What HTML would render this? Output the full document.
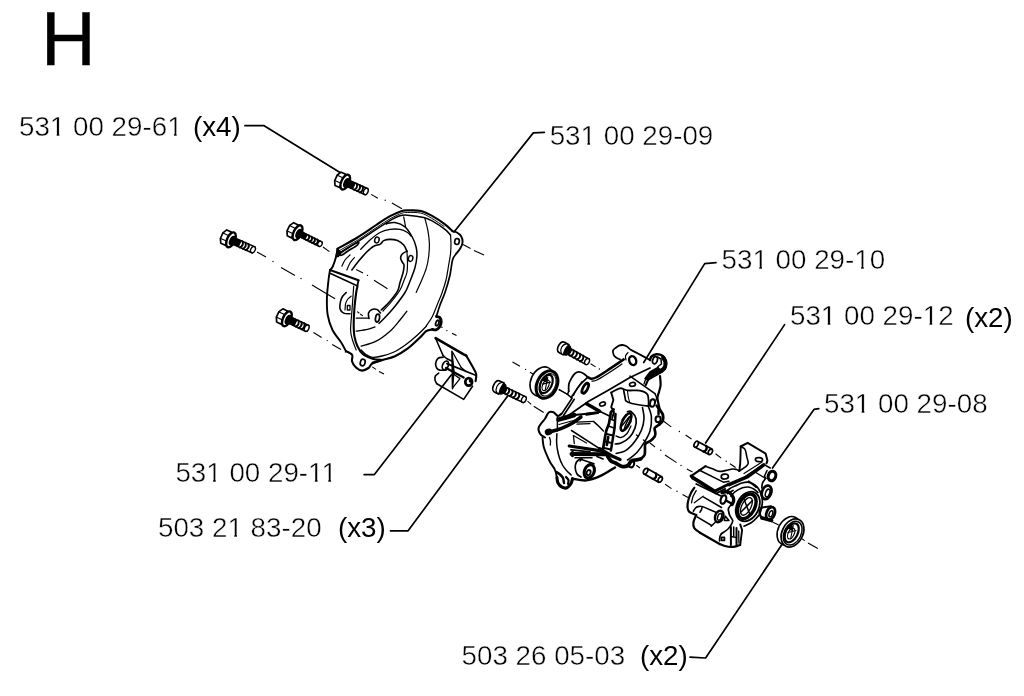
<!DOCTYPE html>
<html><head><meta charset="utf-8"><title>H</title>
<style>
html,body{margin:0;padding:0;background:#fff;}
svg{display:block;will-change:transform}
text{font-family:"Liberation Sans",sans-serif;fill:#000;stroke:#fff;stroke-width:0.45px}
.t{font-size:27.75px}
.d{fill:none;stroke:#000;stroke-width:1.4;stroke-linecap:round;stroke-linejoin:round}
.c{fill:none;stroke:#000;stroke-width:1.1;stroke-linecap:butt}
</style></head><body>
<svg width="1024" height="696" viewBox="0 0 1024 696">
<rect width="1024" height="696" fill="#fff"/>
<text x="41.1" y="65.2" font-size="75.8" style="stroke:#000;stroke-width:0.4px">H</text>
<g class="t">
<text x="19" y="136">531 00 29-61</text>
<text x="193" y="136" style="stroke-width:0">(x4)</text>
<text x="549.7" y="145">531 00 29-09</text>
<text x="721.6" y="268.5">531 00 29-10</text>
<text x="790" y="325">531 00 29-12</text>
<text x="965" y="327" style="stroke-width:0">(x2)</text>
<text x="824" y="412.5">531 00 29-08</text>
<text x="175.4" y="482">531 00 29-11</text>
<text x="158" y="537.3">503 21 83-20</text>
<text x="338" y="537.3" style="stroke-width:0">(x3)</text>
<text x="461.6" y="664.6">503 26 05-03</text>
<text x="640" y="664.6" style="stroke-width:0">(x2)</text>
</g>
<g id="feet" fill="#fff" stroke="none"><rect x="50.97" y="133.52" width="5.69" height="3.2"/><rect x="59.38" y="133.52" width="5.55" height="3.2"/><rect x="168.24" y="133.52" width="5.69" height="3.2"/><rect x="176.64" y="133.52" width="5.55" height="3.2"/><rect x="581.67" y="142.52" width="5.69" height="3.2"/><rect x="590.08" y="142.52" width="5.55" height="3.2"/><rect x="753.57" y="266.02" width="5.69" height="3.2"/><rect x="761.98" y="266.02" width="5.55" height="3.2"/><rect x="855.40" y="266.02" width="5.69" height="3.2"/><rect x="863.81" y="266.02" width="5.55" height="3.2"/><rect x="821.97" y="322.52" width="5.69" height="3.2"/><rect x="830.38" y="322.52" width="5.55" height="3.2"/><rect x="923.80" y="322.52" width="5.69" height="3.2"/><rect x="932.21" y="322.52" width="5.55" height="3.2"/><rect x="855.97" y="410.02" width="5.69" height="3.2"/><rect x="864.38" y="410.02" width="5.55" height="3.2"/><rect x="207.37" y="479.52" width="5.69" height="3.2"/><rect x="215.78" y="479.52" width="5.55" height="3.2"/><rect x="309.20" y="479.52" width="5.69" height="3.2"/><rect x="317.61" y="479.52" width="5.55" height="3.2"/><rect x="322.57" y="479.52" width="5.69" height="3.2"/><rect x="330.98" y="479.52" width="5.55" height="3.2"/><rect x="228.55" y="534.82" width="5.69" height="3.2"/><rect x="236.96" y="534.82" width="5.55" height="3.2"/></g>
<g class="d" stroke-width="1.4">
<path d="M245,125.7 L263.7,125.5 L340,172.5" stroke-width="1.7"/>
<path d="M544.3,132.4 L533.3,132.9 L454,232" stroke-width="1.7"/>
<path d="M716,262.6 L704.7,263.6 L643.7,362.5" stroke-width="1.7"/>
<path d="M784.6,324.6 L705.6,443" stroke-width="1.7"/>
<path d="M818.8,408.7 L814,409.4 L772.5,468" stroke-width="1.7"/>
<path d="M364.1,474.6 L374.4,474.6 L451.2,375" stroke-width="1.7"/>
<path d="M390.5,530.8 L408.1,530.8 L507.5,396.2" stroke-width="1.7"/>
<path d="M690,657.2 L705.6,658 L781.8,544.7" stroke-width="1.7"/>
</g>
<g class="c">
<path d="M371.2,194.4 L377.8,198.3"/>
<circle cx="385.2" cy="200.3" r="0.7" fill="#000" stroke="none"/>
<path d="M391.9,203 L401.9,208.7"/>
<path d="M463,244.5 L470.5,248.5"/>
<path d="M474,250.5 L484,255"/>
<path d="M323,247 L329.4,251.6"/>
<path d="M356.2,269.4 L363,273"/>
<circle cx="367.5" cy="275.4" r="0.7" fill="#000" stroke="none"/>
<path d="M374,280.3 L387.5,288.7"/>
<path d="M257,252 L266,257"/>
<circle cx="273" cy="261.5" r="0.7" fill="#000" stroke="none"/>
<path d="M281,267.5 L295,275.5"/>
<circle cx="301" cy="278.5" r="0.7" fill="#000" stroke="none"/>
<path d="M312,285 L335,298.7"/>
<path d="M313.5,332.5 L321.6,337.5"/>
<circle cx="327.2" cy="340.6" r="0.7" fill="#000" stroke="none"/>
<path d="M332.2,344.4 L341,349.4"/>
<circle cx="345.4" cy="351.9" r="0.7" fill="#000" stroke="none"/>
<path d="M372.2,366.9 L376,369.4"/>
<path d="M379,371.5 L384,374"/>
<circle cx="441.9" cy="327.2" r="0.8" fill="#000" stroke="none"/>
<circle cx="446.9" cy="330.6" r="0.7" fill="#000" stroke="none"/>
<path d="M452,333.2 L456.5,335.5"/>
<path d="M512.5,361.9 L520,366.2"/>
<circle cx="525.6" cy="369.4" r="0.7" fill="#000" stroke="none"/>
<path d="M530,372.2 L533,374"/>
<path d="M558.7,389.7 L568.1,394.4"/>
<path d="M527.5,401.2 L531.2,404.4"/>
<path d="M533.7,406.2 L543.7,412.5"/>
<path d="M590.6,363.7 L595.6,366.9"/>
<circle cx="599.4" cy="369" r="0.7" fill="#000" stroke="none"/>
<path d="M663.7,421.2 L671.2,426.9"/>
<circle cx="679.4" cy="431.5" r="0.7" fill="#000" stroke="none"/>
<path d="M685.6,435 L691.5,439"/>
<path d="M715.6,453.7 L721.2,458.1"/>
<circle cx="726.2" cy="461.2" r="0.7" fill="#000" stroke="none"/>
<path d="M730,463.7 L735.6,467.5"/>
<path d="M650,443 L655,447"/>
<circle cx="660.8" cy="450.2" r="0.7" fill="#000" stroke="none"/>
<path d="M665,455 L676.6,462.6"/>
<circle cx="681" cy="465.5" r="0.7" fill="#000" stroke="none"/>
<path d="M686.8,469 L692.5,472"/>
<path d="M636.3,465.3 L640,468"/>
<path d="M665.1,484.2 L671.5,488.6"/>
<circle cx="677" cy="491.3" r="0.7" fill="#000" stroke="none"/>
<path d="M682.5,494.5 L688,497.6"/>
<path d="M772.5,522 L778.7,525"/>
<path d="M801.9,538.7 L804.7,540.6"/>
<path d="M808,543 L817.8,548.6"/>
</g>
<g class="d" transform="translate(337.6 178.6) rotate(24.5)">
<path d="M0.5,-7.3 L-1.8,-3.1 L-1.8,3.1 L0.5,7.3 L5.5,7.3 L5.5,-7.3 Z" fill="#fff" stroke-width="1.7"/>
<path d="M-1.6,-2.9 L5.5,-2.9 M-1.6,2.9 L5.5,2.9" stroke-width="1.1"/>
<ellipse cx="8.4" cy="0" rx="3.9" ry="8" fill="#fff" stroke-width="2.4"/>
<ellipse cx="10.3" cy="0.3" rx="2.6" ry="4.6" fill="#000" stroke-width="1.4"/>
<path d="M11,-3.3 L31.8,-3.3 L31.8,3.3 L11,3.3 Z" fill="#fff" stroke-width="1.5"/>
<path d="M11,-3.3 L18,-3.3 L18,3.3 L11,3.3 Z" fill="#000" stroke-width="1"/>
<path d="M19.6,-3.3 C21.6,-1.6 21.6,1.6 19.6,3.3 M22.8,-3.3 C24.8,-1.6 24.8,1.6 22.8,3.3 M26,-3.3 C28,-1.6 28,1.6 26,3.3 " stroke-width="2"/>
<ellipse cx="31" cy="0" rx="2.2" ry="3.3" fill="#fff" stroke-width="1.4"/>
</g>
<g class="d" transform="translate(223.3 236.4) rotate(24.1)">
<path d="M0.5,-7.3 L-1.8,-3.1 L-1.8,3.1 L0.5,7.3 L5.5,7.3 L5.5,-7.3 Z" fill="#fff" stroke-width="1.7"/>
<path d="M-1.6,-2.9 L5.5,-2.9 M-1.6,2.9 L5.5,2.9" stroke-width="1.1"/>
<ellipse cx="8.4" cy="0" rx="3.9" ry="8" fill="#fff" stroke-width="2.4"/>
<ellipse cx="10.3" cy="0.3" rx="2.6" ry="4.6" fill="#000" stroke-width="1.4"/>
<path d="M11,-3.3 L33.3,-3.3 L33.3,3.3 L11,3.3 Z" fill="#fff" stroke-width="1.5"/>
<path d="M11,-3.3 L18,-3.3 L18,3.3 L11,3.3 Z" fill="#000" stroke-width="1"/>
<path d="M19.6,-3.3 C21.6,-1.6 21.6,1.6 19.6,3.3 M22.8,-3.3 C24.8,-1.6 24.8,1.6 22.8,3.3 M26,-3.3 C28,-1.6 28,1.6 26,3.3 " stroke-width="2"/>
<ellipse cx="32.5" cy="0" rx="2.2" ry="3.3" fill="#fff" stroke-width="1.4"/>
</g>
<g class="d" transform="translate(290 229) rotate(26.3)">
<path d="M0.5,-7.3 L-1.8,-3.1 L-1.8,3.1 L0.5,7.3 L5.5,7.3 L5.5,-7.3 Z" fill="#fff" stroke-width="1.7"/>
<path d="M-1.6,-2.9 L5.5,-2.9 M-1.6,2.9 L5.5,2.9" stroke-width="1.1"/>
<ellipse cx="8.4" cy="0" rx="3.9" ry="8" fill="#fff" stroke-width="2.4"/>
<ellipse cx="10.3" cy="0.3" rx="2.6" ry="4.6" fill="#000" stroke-width="1.4"/>
<path d="M11,-2.6 L34.2,-2.6 L34.2,2.6 L11,2.6 Z" fill="#fff" stroke-width="1.5"/>
<path d="M11,-2.6 L18,-2.6 L18,2.6 L11,2.6 Z" fill="#000" stroke-width="1"/>
<path d="M19.6,-2.6 C21.6,-1.3 21.6,1.3 19.6,2.6 M22.8,-2.6 C24.8,-1.3 24.8,1.3 22.8,2.6 M26,-2.6 C28,-1.3 28,1.3 26,2.6 M29.2,-2.6 C31.2,-1.3 31.2,1.3 29.2,2.6 " stroke-width="2"/>
<ellipse cx="33.4" cy="0" rx="2.2" ry="2.6" fill="#fff" stroke-width="1.4"/>
</g>
<g class="d" transform="translate(279.3 315.2) rotate(25.3)">
<path d="M0.5,-7.3 L-1.8,-3.1 L-1.8,3.1 L0.5,7.3 L5.5,7.3 L5.5,-7.3 Z" fill="#fff" stroke-width="1.7"/>
<path d="M-1.6,-2.9 L5.5,-2.9 M-1.6,2.9 L5.5,2.9" stroke-width="1.1"/>
<ellipse cx="8.4" cy="0" rx="3.9" ry="8" fill="#fff" stroke-width="2.4"/>
<ellipse cx="10.3" cy="0.3" rx="2.6" ry="4.6" fill="#000" stroke-width="1.4"/>
<path d="M11,-3.3 L31.1,-3.3 L31.1,3.3 L11,3.3 Z" fill="#fff" stroke-width="1.5"/>
<path d="M11,-3.3 L18,-3.3 L18,3.3 L11,3.3 Z" fill="#000" stroke-width="1"/>
<path d="M19.6,-3.3 C21.6,-1.6 21.6,1.6 19.6,3.3 M22.8,-3.3 C24.8,-1.6 24.8,1.6 22.8,3.3 M26,-3.3 C28,-1.6 28,1.6 26,3.3 " stroke-width="2"/>
<ellipse cx="30.3" cy="0" rx="2.2" ry="3.3" fill="#fff" stroke-width="1.4"/>
</g>
<g class="d" transform="translate(495.2 385.6) rotate(25.7)">
<path d="M2,-6.1 C-2.8,-6.1 -2.8,6.1 2,6.1 L7,6.1 L7,-6.1 Z" fill="#fff" stroke-width="1.7"/>
<path d="M4.4,-5.6 C1,-3 1,3 4.4,5.6" stroke-width="1.2"/>
<ellipse cx="8.3" cy="0" rx="2.2" ry="5.2" fill="#000" stroke-width="1.5"/>
<path d="M9.5,-3.2 L32.6,-3.2 L32.6,3.2 L9.5,3.2 Z" fill="#fff" stroke-width="1.5"/>
<path d="M9.5,-3.2 L12,-3.2 L12,3.2 L9.5,3.2 Z" fill="#000" stroke-width="1"/>
<path d="M13.6,-3.2 C15.6,-1.6 15.6,1.6 13.6,3.2 M17.3,-3.2 C19.3,-1.6 19.3,1.6 17.3,3.2 M21,-3.2 C23,-1.6 23,1.6 21,3.2 M24.7,-3.2 C26.7,-1.6 26.7,1.6 24.7,3.2 " stroke-width="2"/>
<ellipse cx="31.8" cy="0" rx="2.2" ry="3.2" fill="#fff" stroke-width="1.4"/>
</g>
<g class="d" transform="translate(560 346.4) rotate(29.2)">
<path d="M2,-5.8 C-2.8,-5.8 -2.8,5.8 2,5.8 L7,5.8 L7,-5.8 Z" fill="#fff" stroke-width="1.7"/>
<path d="M4.4,-5.3 C1,-2.9 1,2.9 4.4,5.3" stroke-width="1.2"/>
<ellipse cx="8.3" cy="0" rx="2.2" ry="5" fill="#000" stroke-width="1.5"/>
<path d="M9.5,-3.2 L31.8,-3.2 L31.8,3.2 L9.5,3.2 Z" fill="#fff" stroke-width="1.5"/>
<path d="M9.5,-3.2 L12,-3.2 L12,3.2 L9.5,3.2 Z" fill="#000" stroke-width="1"/>
<path d="M13.6,-3.2 C15.6,-1.6 15.6,1.6 13.6,3.2 M17.3,-3.2 C19.3,-1.6 19.3,1.6 17.3,3.2 M21,-3.2 C23,-1.6 23,1.6 21,3.2 M24.7,-3.2 C26.7,-1.6 26.7,1.6 24.7,3.2 " stroke-width="2"/>
<ellipse cx="31" cy="0" rx="2.2" ry="3.2" fill="#fff" stroke-width="1.4"/>
</g>
<g class="d">
<path d="M337.5,248.7 C340.8,246.8 351.1,241.4 357.5,237.5 C363.9,233.6 370.8,228.6 376.2,225 C381.6,221.4 385.8,218.5 390,216.2 C394.2,213.9 398.3,212.2 401.2,211.2 C404.1,210.2 404.2,210.4 407.5,210.4 C410.8,210.4 417,210 421.2,211 C425.4,212 428.5,214 432.5,216.2 C436.5,218.4 441.7,221.9 445,224.4 C448.3,226.9 451.2,230.1 452.5,231.2" stroke-width="2.1"/>
<path d="M452.5,231.2 C453.2,231.4 455.1,231.5 456.5,232.3 C457.9,233.1 460,234.4 461,236 C462,237.6 462.7,240 462.6,242 C462.5,244 461.6,246.1 460.5,248 C459.4,249.9 456.9,252.8 456.2,253.7" stroke-width="1.9"/>
<path d="M456.2,253.7 C455.6,254.8 453.5,256.4 452.5,260 C451.5,263.6 451.2,269.6 450,275 C448.8,280.4 446.7,287.5 445,292.5 C443.3,297.5 441.4,301.1 440,305 C438.6,308.9 437.1,314.2 436.5,316" stroke-width="1.7"/>
<path d="M436.5,316.5 C437.1,316.7 439,316.6 439.8,317.5 C440.6,318.4 441.2,320.4 441.2,322 C441.1,323.6 440.4,325.7 439.5,327 C438.6,328.3 437.2,329.4 436,329.8 C434.8,330.2 433.1,329.5 432.5,329.4" stroke-width="2.9"/>
<ellipse cx="437.3" cy="323" rx="1.5" ry="2.8" stroke-width="1.8" transform="rotate(20 437.3 323)"/>
<path d="M432.5,329.4 C431.4,329.7 428.3,329.8 426.2,331.2 C424.1,332.6 423.1,334.6 420,337.5 C416.9,340.4 411.7,345.6 407.5,348.7 C403.3,351.8 399.2,354.3 395,356.2 C390.8,358.1 386.2,358.9 382.5,360 C378.8,361.1 374.2,362.2 372.5,362.7" stroke-width="2.2"/>
<path d="M381,360.6 C379.5,361.1 374.3,362.5 372.2,363.7 C370.1,364.9 370.2,366.9 368.5,368 C366.8,369.1 364.3,370.7 362.2,370.6 C360.1,370.5 357.7,369.1 356,367.5 C354.3,365.9 352.6,363.3 352,361.2 C351.4,359.1 353.2,356.7 352.2,355 C351.2,353.3 347,351.8 346,351.2" stroke-width="2.1"/>
<path d="M346,351.2 C345.2,349.8 343.4,346 341.2,342.5 C338.9,339 334.8,334.6 332.5,330 C330.2,325.4 328.6,320.2 327.7,315 C326.8,309.8 326.8,304.5 326.9,298.7 C327,292.9 328,284.8 328.5,280 C329,275.2 329.8,271.7 330,270" stroke-width="1.9"/>
<path d="M330,270 C330.5,269.4 331.8,268.8 332.8,266.5 C333.8,264.2 335.4,259.2 336.2,256.2 C337,253.2 337.3,249.9 337.5,248.7" stroke-width="1.9"/>
<path d="M340,252.5 C342.9,250.7 351.5,245.8 357.5,241.9 C363.5,238.1 370.8,233 376.2,229.4 C381.6,225.8 386,222.9 390,220.6 C394,218.3 397.1,216.7 400,215.8 C402.9,214.9 403.6,214.9 407.5,215.2 C411.4,215.5 419.5,216.5 423.7,217.5 C427.9,218.5 428.9,219.2 432.5,221.2 C436.1,223.2 442,227.1 445,229.4 C448,231.7 449.6,234.1 450.5,235" stroke-width="1.5"/>
<path d="M450.5,235 C450.6,236.5 451,240.8 451,244 C451,247.2 450.9,250.3 450.5,254 C450.1,257.7 449.2,261.7 448.5,266 C447.8,270.3 447.1,275.5 446,280 C444.9,284.5 443.4,289 442,293 C440.6,297 439.1,300.1 437.5,304 C435.9,307.9 434.4,312.5 432.5,316.2 C430.6,319.9 427.2,324.5 426.2,326.2" stroke-width="1.2"/>
<path d="M426.2,326.2 C424.8,327.6 421.4,331.4 418,334.5 C414.6,337.6 410,341.6 406,344.5 C402,347.4 398,350.1 394,352 C390,353.9 385.6,355.1 382,356 C378.4,356.9 375.2,357.6 372.5,357.3 C369.8,357.1 367.9,355.7 366,354.5 C364.1,353.3 362,350.8 361.2,350" stroke-width="1.3"/>
<path d="M340.5,250 C343.5,248.3 352.4,243.4 358.5,239.6 C364.6,235.8 371.8,230.6 377.2,227.1 C382.6,223.6 386.9,220.6 391,218.3 C395.1,216 399,214.3 401.8,213.3 C404.6,212.3 404.5,212.5 407.7,212.5 C410.9,212.5 416.8,212.2 420.8,213.1 C424.8,214 427.6,216 431.5,218.2 C435.4,220.4 441.9,225 444,226.4" stroke-width="1"/>
<ellipse cx="457" cy="241.5" rx="2.3" ry="3" stroke-width="1.7" transform="rotate(10 457 241.5)"/>
<path d="M337.5,248.7 L341,252.5 L338.5,256.5 L336,256.5Z" stroke-width="1.3" fill="#000"/>
<path d="M340.5,253.2 C341.6,252 345.1,249.8 348,248 C350.9,246.2 356.5,242.6 358,242.2 C359.5,241.8 358.7,243.9 357,245.4 C355.3,246.9 350.6,249.3 348,251 C345.4,252.7 342.8,254.9 341.5,255.3 C340.2,255.7 339.4,254.4 340.5,253.2Z" stroke-width="1.7"/>
<path d="M330,270 L358.5,280.3" stroke-width="2"/>
<path d="M330.6,273.5 L356.5,285.5" stroke-width="1.5"/>
<path d="M358.5,280.3 L357.3,286" stroke-width="1.8"/>
<path d="M357.5,286 C357.3,287.1 356.7,288.7 356.2,292.5 C355.7,296.3 354.8,303.5 354.4,308.7 C354,313.9 353.7,319.1 353.7,323.7 C353.7,328.3 353.8,332.4 354.4,336.2 C355,339.9 356.1,343.3 357.5,346.2 C358.9,349.1 360,351.6 362.5,353.7 C365,355.8 369.2,357.6 372.5,358.7 C375.8,359.8 380.8,359.8 382.5,360" stroke-width="2.1"/>
<path d="M353.7,286.2 C353.4,290.4 352.4,303.9 351.9,311.2 C351.4,318.5 350.5,325.2 350.6,330 C350.7,334.8 351.6,336.7 352.5,340 C353.4,343.3 355.6,348.3 356.2,350" stroke-width="1.2"/>
<path d="M346.2,292.5 C345.6,293.2 343.4,295.1 342.5,296.5 C341.6,297.9 341,299.2 340.6,301.2 C340.2,303.2 339.5,306.7 340,308.7 C340.5,310.7 342,312.3 343.7,313.1 C345.4,313.9 348.9,313.6 350,313.7" stroke-width="1.6"/>
<path d="M351.2,296.2 C350.6,296.8 348.4,298.2 347.5,299.5 C346.6,300.8 346,301.9 345.6,303.7 C345.2,305.4 345.1,308.9 345,310" stroke-width="1.2"/>
<path d="M347.3,305.5 L350,305.5 L350,310 L347.3,310Z" stroke-width="1.3"/>
<path d="M386.2,223.7 C387.7,223.5 391.9,222 395,222.5 C398.1,223 402.1,224.4 405,226.9 C407.9,229.4 410.6,234.1 412.5,237.5 C414.4,240.9 415.5,244.4 416.2,247.5 C416.9,250.6 417.1,252.9 416.9,256.2 C416.7,259.5 416.1,263.3 415,267.5 C413.9,271.7 411.7,277 410,281.2 C408.3,285.4 407.5,288.3 405,292.5 C402.5,296.7 398.3,302 395,306.2 C391.7,310.4 387.7,314.6 385,317.5 C382.3,320.4 380,322.5 379,323.5" stroke-width="1.5"/>
<circle cx="386.5" cy="223.6" r="1.1" fill="#000" stroke="none"/>
<path d="M403.7,216.9 L405.6,226.9" stroke-width="1.2"/>
<path d="M425,218.7 C425.5,220.8 427.3,227 428,231.2 C428.7,235.4 429.3,239.5 429.4,243.7 C429.5,247.9 429.2,252 428.7,256.2 C428.2,260.4 427.4,264.5 426.2,268.7 C424.9,272.9 422.9,277.2 421.2,281.2 C419.5,285.2 417,290.6 416.2,292.5" stroke-width="1.2"/>
<path d="M360.6,249.4 C362.2,247.8 366.8,242.8 370,240 C373.2,237.2 376.7,234.3 380,232.5 C383.3,230.7 386.7,229.9 390,229.4 C393.3,228.9 397.1,228.9 400,229.4 C402.9,229.9 405.7,231.4 407.5,232.5 C409.3,233.6 410.4,235.4 411,236" stroke-width="1.3"/>
<ellipse cx="376.9" cy="240" rx="2.2" ry="3" stroke-width="1.5" transform="rotate(15 376.9 240)"/>
<path d="M351.9,270 C352.8,268.8 355.1,265.4 357.5,262.5 C359.9,259.6 363.5,255.2 366.2,252.5 C368.9,249.8 371.4,247.5 373.7,246.2 C376,244.8 378.3,245.3 380,244.4 C381.7,243.5 382,241.4 383.7,240.6 C385.4,239.8 387.7,239.4 390,239.4 C392.3,239.4 395.2,239.7 397.5,240.6 C399.8,241.5 402.1,243.2 403.7,245 C405.3,246.8 406.4,250.2 406.9,251.2" stroke-width="1.6"/>
<path d="M406.9,251.2 C406.2,251.6 403.6,252.5 402.5,253.7 C401.4,254.8 400.6,256.6 400.6,258.1 C400.6,259.6 401.9,261.4 402.5,262.5 C403.1,263.6 403.9,263.3 404,265 C404.1,266.7 403.8,269.6 403.1,272.5 C402.4,275.4 400.9,279.4 400,282.5 C399.1,285.6 399.2,288.1 397.5,291.2 C395.8,294.3 392.7,298.1 390,301.2 C387.3,304.3 382.7,308.5 381.2,310" stroke-width="1.6"/>
<path d="M406.9,251.2 C407,253.1 407.5,258.9 407.5,262.5 C407.5,266.1 407.5,269.4 406.9,272.5 C406.3,275.6 404.8,278.3 403.7,281.2 C402.6,284.1 401.9,286.7 400,290 C398.1,293.3 394.8,297.5 392,301 C389.2,304.5 384.5,309.3 383,311" stroke-width="1.2"/>
<ellipse cx="410.6" cy="258.5" rx="2.2" ry="3" stroke-width="1.5" transform="rotate(15 410.6 258.5)"/>
<path d="M341.9,266.2 C342.4,265.2 343.6,261.9 345,260 C346.4,258.1 349.2,255.8 350,255" stroke-width="1.2"/>
<path d="M346.9,270 C347.4,268.8 348.8,265.1 350,263 C351.2,260.9 353.7,258.4 354.4,257.5" stroke-width="1.2"/>
<path d="M369,318.5 C368.9,317.6 368,314.5 368.5,313 C369,311.5 370.6,310.1 372,309.5 C373.4,308.9 375.6,308.9 377,309.5 C378.4,310.1 379.9,312.4 380.5,313" stroke-width="1.6"/>
<ellipse cx="377.5" cy="318.1" rx="2" ry="4" stroke-width="1.7" transform="rotate(10 377.5 318.1)"/>
<path d="M368.7,318.1 L356.2,318.1" stroke-width="1.3"/>
<path d="M357.5,311.9 L359,313" stroke-width="1.1"/>
<path d="M360.5,314.2 L362.5,315.6" stroke-width="1.1"/>
<path d="M361.2,346.2 C363.7,345.4 371.4,343.7 376.2,341.2 C381,338.7 386,334.7 390,331.2 C394,327.7 397.2,323.3 400,320 C402.8,316.7 405.8,312.7 406.9,311.2" stroke-width="1.3"/>
<path d="M356.2,331.2 C358.1,330.9 364.4,330.1 367.5,329.4 C370.6,328.7 373.8,327.3 375,326.9" stroke-width="1.3"/>
<ellipse cx="362.7" cy="362.5" rx="2.4" ry="3.4" stroke-width="1.7" transform="rotate(15 362.7 362.5)"/>
</g>
<g class="d">
<path d="M435.6,338.1 L463.7,354.4 L466.2,355.6" stroke-width="2.6"/>
<path d="M466.2,355.6 C467.4,357.8 472,365.6 473.7,368.7 C475.4,371.8 475.9,372.3 476.2,374.4 C476.5,376.5 475.7,380.1 475.6,381.2" stroke-width="2.1"/>
<path d="M435.8,338.7 L443.1,355.6" stroke-width="1.5"/>
<path d="M443,357.3 C442.2,357.5 439.2,357.2 438,358.3 C436.8,359.4 435.8,362 435.6,363.7 C435.4,365.4 436.3,367.4 437,368.5 C437.7,369.6 438.5,369.9 440,370.2 C441.5,370.4 445.2,370 446.2,370" stroke-width="1.7"/>
<ellipse cx="445.4" cy="365.4" rx="2.8" ry="4.6" stroke-width="1.7" transform="rotate(25 445.4 365.4)"/>
<path d="M443.1,355.6 L446.5,358.5 L451.5,361" stroke-width="1.5"/>
<path d="M438.7,373.1 C438.1,373.6 436,374.9 435.4,376 C434.8,377.1 434.8,378.7 435,380 C435.2,381.3 436.5,383.1 436.8,383.7" stroke-width="1.6"/>
<path d="M436.8,383.7 L463.7,399.4 L472.5,386.2" stroke-width="1.6"/>
<path d="M451.9,351.2 L453.9,371.2 L452.5,388.7Z" stroke-width="1.5" fill="#000"/>
<path d="M452.5,352 L461.2,367.5" stroke-width="1.3"/>
<path d="M453,373.7 L460,378.6 L453,387.3" stroke-width="1.3"/>
<path d="M446.9,363.7 L475,375" stroke-width="1.8"/>
<path d="M446,368 L463.7,377.5" stroke-width="2.2"/>
<ellipse cx="468.7" cy="381.9" rx="3.4" ry="3.8" stroke-width="2.7"/>
<circle cx="470.5" cy="381" r="1.8" fill="#000" stroke="none"/>
<path d="M461.2,367.5 L466,371.5" stroke-width="1.3"/>
</g>
<g class="d" transform="translate(547 384.6)">
<ellipse cx="0" cy="0" rx="10.8" ry="15.2" transform="translate(-5.3 -3.2) rotate(25)" stroke-width="1.6" fill="#fff"/>
<ellipse cx="0" cy="0" rx="10" ry="14.4" transform="rotate(25)" stroke-width="3" fill="#fff"/>
<ellipse cx="0" cy="0" rx="7.6" ry="11.8" transform="translate(0.6 0.2) rotate(25)" stroke-width="1"/>
<ellipse cx="0" cy="0" rx="5.6" ry="9.8" transform="translate(-0.8 -0.6) rotate(25)" stroke-width="2.2"/>
<ellipse cx="0" cy="0" rx="3" ry="5.8" transform="translate(-1.3 0.6) rotate(25)" stroke-width="1.2"/>
<path d="M-4.5,-0.5 L3.5,-2.5 M0.8,-7.5 L-1.8,5.5" stroke-width="1.1"/>
<path d="M-4.8,-5 L-0.6,-8.8 L0,-2.5 Z" fill="#000" stroke-width="1.2"/>
</g>
<g class="d" transform="translate(792.5 533)">
<ellipse cx="0" cy="0" rx="10.6" ry="15" transform="translate(-3.8 -2.2) rotate(27)" stroke-width="1.6" fill="#fff"/>
<ellipse cx="0" cy="0" rx="10.4" ry="14.8" transform="rotate(27)" stroke-width="1.7" fill="#fff"/>
<ellipse cx="0" cy="0" rx="8.4" ry="12.6" transform="translate(0.2 0.2) rotate(27)" stroke-width="1.5"/>
<ellipse cx="0" cy="0" rx="6" ry="10.2" transform="translate(-0.8 -0.2) rotate(27)" stroke-width="2.2"/>
<ellipse cx="0" cy="0" rx="3" ry="5.8" transform="translate(-1.3 0.6) rotate(25)" stroke-width="1.2"/>
<path d="M-4.5,-0.5 L3.5,-2.5 M0.8,-7.5 L-1.8,5.5" stroke-width="1.1"/>
<path d="M-4.8,-5 L-0.6,-8.8 L0,-2.5 Z" fill="#000" stroke-width="1.2"/>
</g>
<g class="d">
<path d="M568.7,391.2 C568.7,390 568.4,386.3 568.9,384 C569.4,381.7 570.9,379.2 571.9,377.5 C572.9,375.8 573.9,374.4 575,373.5 C576.1,372.6 577.3,371.9 578.7,371.9 C580.1,371.9 582,372.6 583.5,373.5 C585,374.4 586.8,376.4 587.5,377" stroke-width="1.8"/>
<path d="M587.5,377.5 C586.2,378.8 582.3,382.3 580,385 C577.7,387.7 575.2,391.6 573.7,393.7 C572.2,395.8 571.6,396.9 571.2,397.5" stroke-width="1.7"/>
<path d="M582,381.5 C581.2,382.7 578.4,386.2 577,388.5 C575.6,390.8 574.1,394.3 573.5,395.5" stroke-width="1.2"/>
<ellipse cx="585.3" cy="388.2" rx="2.3" ry="5.6" stroke-width="2.7" transform="rotate(28 585.3 388.2)"/>
<path d="M559.4,389.4 L567.5,394.4" stroke-width="1.2"/>
<path d="M568.7,391.2 L567.5,394.4 L571.2,397.5" stroke-width="1.5"/>
<path d="M572.2,398 L561.2,414.5" stroke-width="1.6"/>
<path d="M574.3,399.3 L563.4,415.8" stroke-width="1.6"/>
<path d="M587.5,377 C588.1,377.3 589.8,378.6 591.2,378.7 C592.6,378.8 593.5,378.8 596,377.5 C598.5,376.2 601.6,374.2 606.2,371.2 C610.8,368.2 620.8,361.4 623.7,359.4" stroke-width="2.5"/>
<path d="M592,381.2 C592.8,381 594.4,381.2 597,380 C599.6,378.8 603.3,376.4 607.5,373.7 C611.7,371 619.6,365.6 622,364" stroke-width="1.3"/>
<path d="M620,359.4 C619.3,359.1 617,358.2 616,357.5 C615,356.8 614.2,356.2 613.7,355 C613.2,353.8 612.6,351.8 613,350.5 C613.4,349.2 615.2,348.3 616.2,347.5 C617.2,346.7 618,346 619,345.6 C620,345.2 621.2,344.9 622.5,345 C623.8,345.1 625,345.5 626.5,346.3 C628,347.1 629.4,348.9 631.2,350 C633,351.1 634.4,351.5 637.5,353.2 C640.6,354.9 647.9,358.9 650,360" stroke-width="1.8"/>
<path d="M628,352.5 C627.6,353.1 625.8,354.8 625.5,356 C625.2,357.2 625.9,359.3 626,360" stroke-width="1.2"/>
<ellipse cx="632.7" cy="360.6" rx="3.4" ry="4.6" stroke-width="2.4" transform="rotate(-20 632.7 360.6)"/>
<path d="M650,360 C650.2,359.4 650.4,357.5 651.5,356.5 C652.6,355.5 654.7,354.3 656.5,354.2 C658.3,354.1 660.9,354.7 662.5,355.8 C664.1,356.9 665.5,359.1 666,361 C666.5,362.9 666.3,365.3 665.7,367 C665.1,368.7 664,370.3 662.5,371.2 C661,372.1 657.9,372.4 657,372.6" stroke-width="2.5"/>
<path d="M663,357.5 C663.4,358.2 665,360.3 665.3,362 C665.5,363.7 665.3,366 664.5,367.5 C663.7,369 661.2,370.4 660.5,371" stroke-width="3.8"/>
<ellipse cx="655" cy="360.2" rx="2.3" ry="3.7" stroke-width="1.7" transform="rotate(20 655 360.2)"/>
<path d="M657.5,357 L661,359 L661.5,364 L658,366.5" stroke-width="1.5"/>
<path d="M645,378.5 L650,372 L658,367.5 L662,372 L655,376 L648,380Z" stroke-width="1.5" fill="#000"/>
<path d="M648,380 L645.8,385" stroke-width="2"/>
<path d="M645.5,379.5 L644,384" stroke-width="1.3"/>
<path d="M650,368 L630,377.5 L608.7,390 L588.7,401.2 L571.9,413 L561.2,420" stroke-width="1.7"/>
<path d="M630,376.2 L655,393.7" stroke-width="1.6"/>
<path d="M586.5,403.7 L599.6,411.2" stroke-width="3.4"/>
<path d="M599.6,411.2 L610,416.2" stroke-width="1.6"/>
<ellipse cx="632.5" cy="384.4" rx="3" ry="1.9" stroke-width="1.7" transform="rotate(-10 632.5 384.4)"/>
<ellipse cx="602.5" cy="404" rx="3" ry="1.9" stroke-width="1.7" transform="rotate(-20 602.5 404)"/>
<path d="M660,376 C660.1,377.5 660.8,382.3 660.6,385 C660.4,387.7 659.5,389.9 659,392 C658.5,394.1 657.6,395.5 657.5,397.5 C657.4,399.5 658.1,401.9 658.5,404 C658.9,406.1 659.8,409 660,410" stroke-width="2.2"/>
<path d="M655,393.7 C655.2,394.4 656.5,396.4 656.5,398 C656.5,399.6 655.2,402.2 655,403" stroke-width="1.3"/>
<path d="M656.5,405.5 C656.8,406.1 658.2,407.6 658.5,409 C658.8,410.4 658.5,413.2 658.5,414" stroke-width="2.5"/>
<path d="M611.2,392.5 C612.7,391.8 617.3,388.7 620,388.3 C622.7,387.9 624.2,390 627.5,390.4 C630.8,390.8 636.7,389.9 640,390.6 C643.3,391.3 646,391.9 647.5,394.5 C649,397.1 648.5,404.2 648.7,406.2" stroke-width="1.8"/>
<path d="M623.7,390.5 C623.9,391.6 624.6,395.2 625,397 C625.4,398.8 625,400.1 626.2,401.2 C627.4,402.3 629.7,402.9 632,403.5 C634.3,404.1 637.2,404.6 640,405 C642.8,405.4 647.2,406 648.7,406.2" stroke-width="1.7"/>
<path d="M627.5,390.8 C627.6,391.8 628,395.2 628.3,397 C628.6,398.8 629.3,400.8 629.5,401.5" stroke-width="1.1"/>
<path d="M611.2,392.5 L613.4,400 L611.2,407 L614,412 L612.2,418" stroke-width="1.9"/>
<ellipse cx="652.5" cy="403" rx="2.4" ry="3.8" stroke-width="1.9" transform="rotate(10 652.5 403)"/>
<ellipse cx="626" cy="422" rx="3.6" ry="9.6" stroke-width="2.5" transform="rotate(26 626 422)"/>
<ellipse cx="628" cy="422.7" rx="1.2" ry="8" stroke-width="1.5" transform="rotate(26 628 422.7)"/>
<path d="M622,420 L626,414.5" stroke-width="1.3"/>
<path d="M621,427 L629.5,416.5" stroke-width="1.3"/>
<path d="M622.5,431.5 L631,421.5" stroke-width="1.3"/>
<path d="M627.5,411.7 C628.1,411.7 629.8,410.5 631.2,411.7 C632.6,412.9 635.4,416 636,418.7 C636.6,421.4 636.1,424.9 635,428 C633.9,431.1 631.7,435 629.4,437.5 C627.1,440 623.4,441.9 621,443 C618.6,444.1 616.2,443.8 615.3,444" stroke-width="1.7"/>
<path d="M616,436 C616.8,436.2 619.2,437.9 621,437.5 C622.8,437.1 625.3,435.4 627,433.5 C628.7,431.6 630.3,427.2 631,426" stroke-width="1.3"/>
<path d="M642.5,407.5 C642.8,409.4 644.2,414.9 644,418.7 C643.8,422.4 643,426.2 641.5,430 C640,433.8 637.6,437.8 635,441.2 C632.4,444.6 628.7,448.6 625.6,450.6 C622.5,452.6 617.8,452.9 616.2,453.4" stroke-width="1.6"/>
<path d="M648,405.6 C648.6,407.5 651.1,412.7 651.4,416.9 C651.7,421.1 651.2,426.8 650,431 C648.8,435.2 646.6,438.6 644.4,442.2 C642.2,445.8 639.7,449.5 636.9,452.5 C634.1,455.5 629.1,458.8 627.5,460" stroke-width="1.6"/>
<path d="M636.5,435 L638.3,436.5" stroke-width="1.5"/>
<path d="M643.5,440 L645.3,441.5" stroke-width="1.5"/>
<path d="M660,410 C660.5,410.8 662.5,413.2 662.9,415 C663.3,416.8 663.2,419.4 662.6,421 C662,422.6 659.9,423.8 659.4,424.4" stroke-width="2.9"/>
<ellipse cx="658.1" cy="419.2" rx="2.6" ry="3" stroke-width="2"/>
<path d="M659.4,424.4 C658.6,425 655.4,426.6 654.7,428 C654,429.4 655.3,431.1 655.3,432.5 C655.3,433.9 655.6,435.1 654.7,436.5 C653.8,437.9 651.6,439.9 650,441.2 C648.4,442.4 646.1,442.5 645.3,444 C644.5,445.5 645.1,448.1 645,450 C644.9,451.9 645.1,453.8 644.4,455.3 C643.7,456.8 641.2,458.4 640.6,459" stroke-width="2.7"/>
<path d="M640.6,459 C639.8,459.2 637.6,459.7 636,460 C634.4,460.3 632.5,460.1 631.2,461 C629.9,461.9 629.5,464.6 628,465.5 C626.5,466.4 624.1,466.9 622,466.5 C619.9,466.1 617.3,463.9 615.5,463 C613.7,462.1 612.3,462.1 611,461 C609.7,459.9 608.1,457 607.5,456.2" stroke-width="3.8"/>
<ellipse cx="631.4" cy="464.2" rx="2.6" ry="3.2" stroke-width="2" transform="rotate(25 631.4 464.2)"/>
<path d="M561.2,413.7 C560.7,414.1 559.3,416.2 558,416 C556.7,415.8 555,412.9 553.5,412.3 C552,411.7 550.1,411.4 548.7,412.5 C547.3,413.6 546.7,416.2 545,418.7 C543.3,421.2 539.5,425 538.7,427.5 C537.9,430 539,432 540,433.7 C541,435.4 544.2,436.9 545,437.5" stroke-width="2"/>
<ellipse cx="548.6" cy="431.9" rx="2.8" ry="2.2" stroke-width="2.2" fill="#000" transform="rotate(-20 548.6 431.9)"/>
<path d="M557.4,416.9 L557.4,431" stroke-width="1.5"/>
<path d="M542.5,437.5 C542.7,438.9 542.9,443.3 543.5,446 C544.1,448.7 545.1,451 546.2,453.7 C547.3,456.4 548.5,459.3 550,462 C551.5,464.7 553.9,467.4 555,470 C556.1,472.6 556.6,476.2 556.9,477.5" stroke-width="1.9"/>
<path d="M556.9,477.5 C557.1,478.4 557.1,481.4 558,483 C558.9,484.6 560.5,486.4 562,487.2 C563.5,488 565.5,488.4 567,487.8 C568.5,487.2 570.1,485 571,483.5 C571.9,482 572.2,479.5 572.5,478.7" stroke-width="3.1"/>
<path d="M556.5,472 C557.1,472.4 558.9,473.5 560,474.5 C561.1,475.5 562.3,476.6 563,478 C563.7,479.4 563.8,482.2 564,483" stroke-width="2.5"/>
<path d="M566,477 C566.4,477.5 568.2,478.8 568.5,480 C568.8,481.2 568.1,483.3 568,484" stroke-width="2.2"/>
<path d="M572.5,478.7 C574.8,479 581.6,480.8 586.2,480.4 C590.8,480 595.2,478.3 600,476.2 C604.8,474.1 612.5,468.9 615,467.5" stroke-width="2.4"/>
<path d="M556.9,433.7 C556.9,435.1 556.5,439.3 556.6,442 C556.7,444.7 557,447.3 557.5,450 C558,452.7 558.7,455.5 559.5,458 C560.3,460.5 561.3,462.9 562.5,465 C563.7,467.1 565,468.8 566.5,470.5 C568,472.2 570.4,474.2 571.2,475" stroke-width="1.5"/>
<path d="M549.5,437.5 C549.7,438.1 550.4,439.8 550.5,441 C550.6,442.2 550.3,444.3 550.3,445" stroke-width="1.3"/>
<path d="M580,459 C579.4,459.5 577.3,460.6 576.5,462 C575.7,463.4 575.1,465.5 575.2,467.5 C575.3,469.5 576,472.4 577,474 C578,475.6 580.3,476.5 581,477" stroke-width="1.7"/>
<path d="M580,459 L594,463.7" stroke-width="1.6"/>
<ellipse cx="589.3" cy="471.3" rx="4.8" ry="6.9" stroke-width="3.1" transform="rotate(22 589.3 471.3)"/>
<ellipse cx="588.6" cy="472.6" rx="1.9" ry="2.6" stroke-width="1.8" transform="rotate(20 588.6 472.6)"/>
<path d="M549.5,431.9 C551.6,431.3 558.1,429.7 562.1,428.1 C566.1,426.5 570.3,424.4 573.4,422.5 C576.5,420.6 579.6,417.8 580.9,416.9" stroke-width="3.6"/>
<path d="M558.4,419.7 C559.7,419.3 563.4,418.3 566,417.5 C568.6,416.7 572.9,415.4 574.3,415" stroke-width="4.5"/>
<path d="M574.3,415 L584.6,414 L595.9,412.7" stroke-width="1.8"/>
<path d="M559,424.5 L577,419.5" stroke-width="1.1"/>
<path d="M586.5,414.3 L597.7,412.6" stroke-width="2.9"/>
<path d="M576.2,422.2 L594,421.4" stroke-width="1.3"/>
<path d="M577,424.2 L590,423.6" stroke-width="1.2"/>
<path d="M594,422 C594.7,422.6 596.4,424 598,425.5 C599.6,427 602.5,430.1 603.4,431" stroke-width="1.5"/>
<path d="M571.5,430.5 L599.6,448.7" stroke-width="1.5"/>
<path d="M573.4,435.6 L574.3,443.5" stroke-width="1.3"/>
<path d="M573.4,435.6 L586.5,443" stroke-width="1.2"/>
<path d="M569.2,446 L599.6,450.6" stroke-width="3.1"/>
<path d="M571.5,454 L605,454.2" stroke-width="4"/>
<path d="M571,449.8 L590,451.8" stroke-width="1.8"/>
<path d="M572.5,452 L572.5,456" stroke-width="2.7"/>
<path d="M575,457.8 L592,457.8" stroke-width="1.5"/>
<path d="M582,458.5 L580,461" stroke-width="1.5"/>
<path d="M599.6,448.7 L606,452.5 L612,456 L620,459.5" stroke-width="3.4"/>
<path d="M597,456.5 L603,459" stroke-width="1.8"/>
<path d="M613.7,409.4 L610.9,412.2 L609,423.4 L606.2,431 L604.5,440 L603.4,446.9 L601.5,452.5" stroke-width="2.7"/>
<path d="M615.5,414 L614.6,428 L612.7,439.4 L610.9,450.6" stroke-width="2.5"/>
<path d="M610,419 L614.5,420.5" stroke-width="1.8"/>
<path d="M608.5,426 L614,428" stroke-width="1.8"/>
<path d="M606.5,434 L613,435.5" stroke-width="1.8"/>
<path d="M605,441.5 L612,443" stroke-width="1.8"/>
<path d="M604,448 L611,449.5" stroke-width="1.8"/>
<path d="M608.2,437 L606.8,445" stroke-width="2.7"/>
</g>
<g class="d" transform="translate(696.2 444.2) rotate(28.2)">
<path d="M0,-3.1 L16.1,-3.1 M0,3.1 L16.1,3.1" stroke-width="1.8"/>
<ellipse cx="0" cy="0" rx="1.9" ry="3.1" stroke-width="1.7" fill="#fff"/>
<ellipse cx="16.1" cy="0" rx="1.9" ry="2.8" stroke-width="1.7" fill="#fff"/>
<path d="M9.7,-3.1 C12,-1.6 12,1.6 9.7,3.1" stroke-width="2.4"/>
</g>
<g class="d" transform="translate(645.6 471.2) rotate(29.6)">
<path d="M0,-3.1 L16.8,-3.1 M0,3.1 L16.8,3.1" stroke-width="1.8"/>
<ellipse cx="0" cy="0" rx="1.9" ry="3.1" stroke-width="1.7" fill="#fff"/>
<ellipse cx="16.8" cy="0" rx="1.9" ry="2.8" stroke-width="1.7" fill="#fff"/>
<path d="M10.1,-3.1 C12.4,-1.6 12.4,1.6 10.1,3.1" stroke-width="2.4"/>
</g>
<g class="d">
<path d="M691,476.1 L699,470.7 L705.6,466.2" stroke-width="2.2"/>
<path d="M705.6,466.2 C706.8,466.6 710.2,467.9 712.5,468.8 C714.8,469.7 717.4,471.1 719.6,471.4 C721.9,471.7 723.8,470.8 726,470.4 C728.2,470 731,469.1 732.7,469 C734.5,468.9 735.4,469.2 736.5,469.5 C737.6,469.8 738.8,470.8 739.3,471" stroke-width="1.7"/>
<path d="M739.3,471 C739.4,469.7 740,466.1 740.2,463.4 C740.4,460.7 740.4,457.8 740.5,455 C740.6,452.2 740.7,447.9 740.7,446.5" stroke-width="1.9"/>
<path d="M740.7,446.5 L747.7,442.8 L765.6,453.6 L767.4,460.6 L766.5,463.4" stroke-width="2"/>
<path d="M740.7,446.5 C741.4,447 744,447.7 745,449.4 C746,451.1 746.3,454.6 746.8,456.9 C747.3,459.2 748.5,461.7 748.2,463.4 C747.9,465.1 746.5,465.9 745,467.2 C743.5,468.5 740.2,470.4 739.3,471" stroke-width="1.6"/>
<ellipse cx="759" cy="459.7" rx="3.6" ry="2" stroke-width="1.7" transform="rotate(5 759 459.7)"/>
<path d="M691,476.1 L714.9,491.1 L729,484" stroke-width="2.9"/>
<path d="M692.4,478.6 L715.9,493.6 L725.2,488.9" stroke-width="1.8"/>
<path d="M729,484.6 L747.7,476.6 L763.7,464.9" stroke-width="3.6"/>
<path d="M691,476.1 L692.4,478.6" stroke-width="1.8"/>
<path d="M699,470 L723.4,482.2 L729,481.2" stroke-width="1.5"/>
<ellipse cx="724.8" cy="476.6" rx="3.6" ry="2.4" stroke-width="1.7" transform="rotate(-5 724.8 476.6)"/>
<path d="M745.9,476.1 L763.7,464.4 L770.2,468" stroke-width="1.6"/>
<path d="M744,473.5 L762,462" stroke-width="1.2"/>
<path d="M756.2,472.8 L765.6,478.4" stroke-width="1.3"/>
<path d="M748.7,481.2 L756.2,487.3" stroke-width="1.6"/>
<ellipse cx="772" cy="476" rx="3.7" ry="4.8" stroke-width="3.1" transform="rotate(20 772 476)"/>
<path d="M767,470.5 L764.5,476 L765.6,478.4" stroke-width="1.6"/>
<ellipse cx="766.6" cy="492.3" rx="4.6" ry="7" stroke-width="2.7" transform="rotate(20 766.6 492.3)"/>
<ellipse cx="767.6" cy="493" rx="2" ry="4" stroke-width="1.5" transform="rotate(20 767.6 493)"/>
<path d="M765.6,478.4 C765.1,479.2 763.1,481.4 762.5,483 C761.9,484.6 761.9,487.2 761.8,488" stroke-width="1.7"/>
<path d="M761.6,507.5 L771,506.2" stroke-width="2"/>
<path d="M762,518 L771.5,520.6" stroke-width="3.6"/>
<ellipse cx="770.6" cy="513.4" rx="4.1" ry="6.6" stroke-width="2.7" transform="rotate(20 770.6 513.4)"/>
<ellipse cx="770.9" cy="513.8" rx="1.7" ry="3.2" stroke-width="1.5" transform="rotate(20 770.9 513.8)"/>
<path d="M761.6,507.5 C761.3,508.2 759.8,510.2 759.6,511.5 C759.4,512.8 759.9,514.4 760.3,515.5 C760.7,516.6 761.7,517.6 762,518" stroke-width="2.2"/>
<path d="M725.2,492.5 C726,491.8 728.1,489.7 730,488.5 C731.9,487.3 734.5,486.3 736.5,485.4 C738.5,484.5 740.1,483.5 742,483 C743.9,482.5 745.9,482.1 747.7,482.2 C749.5,482.3 751.4,483 753,483.8 C754.6,484.6 755.9,485.6 757.1,486.9 C758.3,488.2 759.2,489.9 760,491.5 C760.8,493.1 761.4,494.3 761.8,496.2 C762.2,498.1 762.6,500.2 762.3,503 C762,505.8 761,510.5 760,513.1 C759,515.7 757.4,516.9 756,518.5 C754.6,520.1 753.5,521.2 751.5,522.5 C749.5,523.8 745.2,525.6 744,526.2" stroke-width="1.7"/>
<path d="M730.9,496.2 C731.6,495.5 733.5,493.1 735,491.8 C736.5,490.6 738.5,489.4 740.2,488.7 C741.9,487.9 743.4,487.5 745,487.3 C746.6,487.1 748,486.9 749.6,487.3 C751.2,487.7 753.1,488.6 754.5,489.5 C755.9,490.4 757.4,492 758,492.5" stroke-width="1.5"/>
<ellipse cx="747.8" cy="506.5" rx="11" ry="15.6" stroke-width="1.8" transform="rotate(27 747.8 506.5)"/>
<ellipse cx="746.8" cy="506.4" rx="8" ry="13.2" stroke-width="3.4" transform="rotate(27 746.8 506.4)"/>
<ellipse cx="746.4" cy="506.4" rx="4.6" ry="9.6" stroke-width="1.3" transform="rotate(27 746.4 506.4)"/>
<path d="M741,512 L752.5,500.5" stroke-width="1.6"/>
<path d="M744,499 L749.5,513.5" stroke-width="1.5"/>
<path d="M694.3,487.8 C693.8,488.7 691.9,491.1 691,493 C690.1,494.9 689.2,497.2 688.7,499 C688.2,500.8 687.9,501.9 687.7,503.5 C687.5,505.1 687.5,507.1 687.7,508.4 C687.9,509.7 688.4,510.7 689,511.5 C689.6,512.3 690.3,512.5 691.5,513.1 C692.7,513.7 695.4,514.7 696.2,515" stroke-width="2.2"/>
<path d="M696.2,515 C695.7,516.2 693.7,520.3 693.4,522.5 C693.1,524.7 693.2,526.4 694.3,528.1 C695.4,529.8 699,532 700,532.8" stroke-width="2.2"/>
<path d="M700,532.8 L719.6,544" stroke-width="2.2"/>
<path d="M719.6,544 C720.5,544.3 723.1,545.5 725,546 C726.9,546.5 729.1,546.9 730.9,546.9 C732.7,546.9 734.5,546.6 736,546.3 C737.5,546 739.5,545.2 740.2,545" stroke-width="2.2"/>
<path d="M740.2,545 L742.1,530 L740.2,524.4" stroke-width="1.9"/>
<path d="M696.2,490.6 C695.7,491.6 693.8,494.5 693,496.5 C692.2,498.5 691.8,501.8 691.5,502.8" stroke-width="1.3"/>
<path d="M696.2,484 L721.5,496.2" stroke-width="1.7"/>
<path d="M703.7,497.2 L721.5,507.5" stroke-width="1.5"/>
<path d="M693.4,511.2 C693.8,510.7 694.7,508.8 695.5,508 C696.3,507.2 697,506.8 698,506.6 C699,506.4 701.2,506.1 701.8,506.6 C702.4,507.1 701.8,508.6 701.5,509.5 C701.2,510.4 700.2,511.8 700,512.2" stroke-width="1.6"/>
<path d="M703.2,496.2 L694.3,502.8" stroke-width="1.2"/>
<path d="M697.1,516.9 L711.2,525.3" stroke-width="1.6"/>
<path d="M702.7,506.6 L715.8,512.2" stroke-width="1.5"/>
<path d="M711.2,526.2 L716,521.5" stroke-width="1.5"/>
<path d="M722,492.7 C722.8,492.5 725.4,491.2 727,491.5 C728.6,491.8 730.4,493.1 731.5,494.5 C732.6,495.9 733.6,498.3 733.7,500 C733.8,501.7 732.3,503.8 732,504.5" stroke-width="3.4"/>
<ellipse cx="723.4" cy="499.5" rx="2.6" ry="4.4" stroke-width="2.2" transform="rotate(20 723.4 499.5)"/>
<path d="M727.5,493.5 L733,490.5" stroke-width="1.8"/>
<path d="M726,500.5 L730.5,503" stroke-width="2.2"/>
<ellipse cx="719.2" cy="516.4" rx="4" ry="6" stroke-width="2.4" transform="rotate(20 719.2 516.4)"/>
<ellipse cx="719.6" cy="516.8" rx="1.9" ry="3.5" stroke-width="1.5" transform="rotate(20 719.6 516.8)"/>
<path d="M725.2,516 L729,520.6 L724.3,520.6Z" stroke-width="1.5"/>
<path d="M732.7,502.8 C732,503.7 729.1,506.7 728.5,508.4 C727.9,510.1 728.8,511.7 729,513 C729.2,514.3 729.4,514.7 730,516 C730.6,517.3 732.5,519.1 732.7,520.6 C732.9,522.1 731.8,523.6 731,525 C730.2,526.4 729.6,527.5 728,529 C726.4,530.5 722.6,532.9 721.5,533.7" stroke-width="1.7"/>
<path d="M721.5,533.7 C721.2,534.2 720.1,535.8 719.8,537 C719.5,538.2 719.5,540.3 719.5,541" stroke-width="1.6"/>
<path d="M721.4,537.4 L724.4,537.4 L724.4,540.4 L721.4,540.4Z" stroke-width="1.8"/>
<path d="M730.9,527 L730.9,545" stroke-width="2"/>
<path d="M736.5,528 L736.5,545" stroke-width="2"/>
<path d="M733.7,527 L733.7,536" stroke-width="1.5"/>
<path d="M738.7,531 L738.9,543" stroke-width="1.3"/>
<path d="M731,536.5 L736.5,537.5" stroke-width="1.6"/>
</g>
</svg>
</body></html>
